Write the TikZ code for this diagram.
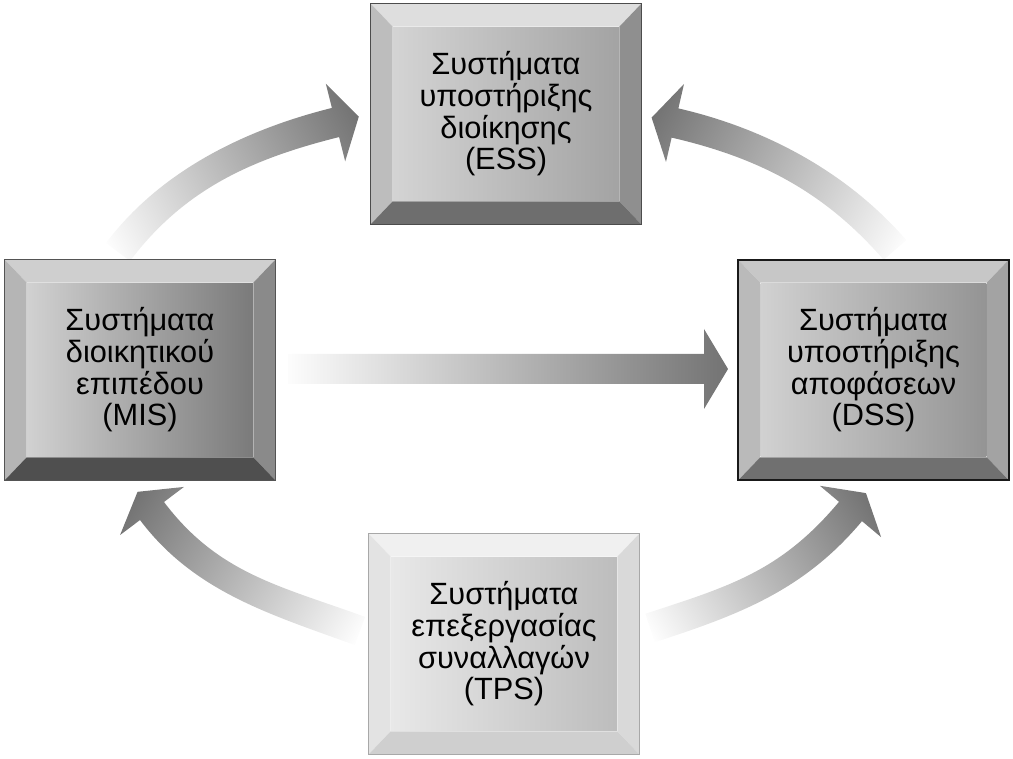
\documentclass[tikz,border=0pt]{standalone}
\usepackage{fontspec}
\setmainfont{Liberation Sans}
\usetikzlibrary{calc}

\pgfdeclareverticalshading{arrowfade}{100bp}{color(0bp)=(white); color(17bp)=(white);
  color(84bp)=(black!58); color(100bp)=(black!58)}
\pgfdeclareverticalshading{barfade}{100bp}{color(0bp)=(white); color(25bp)=(white!99!black);
  color(75bp)=(black!55); color(100bp)=(black!55)}

\tikzset{
  face/.style={inner sep=0pt, minimum width=4.52cm, minimum height=3.48cm, align=center,
    font=\fontsize{17.5}{18}\selectfont},
  thinedge/.style={draw=#1, line width=0.8pt},
  thickedge/.style={draw=black!90, line width=1.3pt},
}

% box with bevels: name, centre, top, left, right, bottom, face left, face right, text
\newcommand{\bevelbox}[9]{%
  \node[face, left color=#7, right color=#8] (#1) at (#2) {#9};
  \coordinate (#1-a) at ($(#1.north west)+(-22,-23)$);
  \coordinate (#1-b) at ($(#1.north east)+(22,-23)$);
  \coordinate (#1-c) at ($(#1.south east)+(22,23)$);
  \coordinate (#1-d) at ($(#1.south west)+(-22,23)$);
  \fill[#3] (#1-a) -- (#1-b) -- (#1.north east) -- (#1.north west) -- cycle;
  \fill[#4] (#1-a) -- (#1.north west) -- (#1.south west) -- (#1-d) -- cycle;
  \fill[#5] (#1-b) -- (#1-c) -- (#1.south east) -- (#1.north east) -- cycle;
  \fill[#6] (#1-d) -- (#1.south west) -- (#1.south east) -- (#1-c) -- cycle;
}

% fading arrow: tail, tail angle, head base, head angle, shading, shading angle
\newcommand{\fadearrow}[6]{%
  \shade[shading=#5, shading angle=#6]
    ($(#1)+({#2+90}:15)$) .. controls ($(#1)+(#2:90)+({#2+90}:15)$) and ($(#3)+({#4+180}:90)+({#4+90}:15)$) ..
    ($(#3)+({#4+90}:15)$) -- ($(#3)+({#4+90}:40)$) -- ($(#3)+(#4:24)$) -- ($(#3)+({#4-90}:40)$) --
    ($(#3)+({#4-90}:15)$) .. controls ($(#3)+({#4+180}:90)+({#4-90}:15)$) and ($(#1)+(#2:90)+({#2-90}:15)$) ..
    ($(#1)+({#2-90}:15)$) -- cycle;
}

\begin{document}
\begin{tikzpicture}[x=0.02cm, y=-0.02cm]
  \useasboundingbox (0,0) rectangle (1013,759);

  % arrows
  \fadearrow{118,252}{-53}{335.5,122.5}{-14}{arrowfade}{-61}
  \fadearrow{895,250}{-131}{675,123}{-167}{arrowfade}{61}
  \fadearrow{360,631}{-160}{152,511}{-127}{arrowfade}{58}
  \fadearrow{650,628}{-18}{850.5,511.5}{-50}{arrowfade}{-58}
  \fadearrow{288,369}{0}{704,369}{0}{barfade}{-90}

  % boxes
  \bevelbox{ess}{506,114}{black!13}{black!26}{black!44}{black!57}{black!17}{black!36}
    {Συστήματα\\υποστήριξης\\διοίκησης\\(ESS)}
  \draw[thinedge=black!70] (ess-a) rectangle (ess-c);

  \bevelbox{mis}{140,370}{black!19}{black!29}{black!46}{black!69}{black!18}{black!52}
    {Συστήματα\\διοικητικού\\επιπέδου\\(MIS)}
  \draw[thinedge=black!67] (mis-a) rectangle (mis-c);

  \bevelbox{dss}{873.5,370}{black!22}{black!27}{black!36}{black!56}{black!18}{black!42}
    {Συστήματα\\υποστήριξης\\αποφάσεων\\(DSS)}
  \draw[thickedge] (dss-a) rectangle (dss-c);

  \bevelbox{tps}{504,644}{black!6}{black!11}{black!15}{black!19}{black!9}{black!26}
    {Συστήματα\\επεξεργασίας\\συναλλαγών\\(TPS)}
  \draw[thinedge=black!34] (tps-a) rectangle (tps-c);
\end{tikzpicture}
\end{document}
